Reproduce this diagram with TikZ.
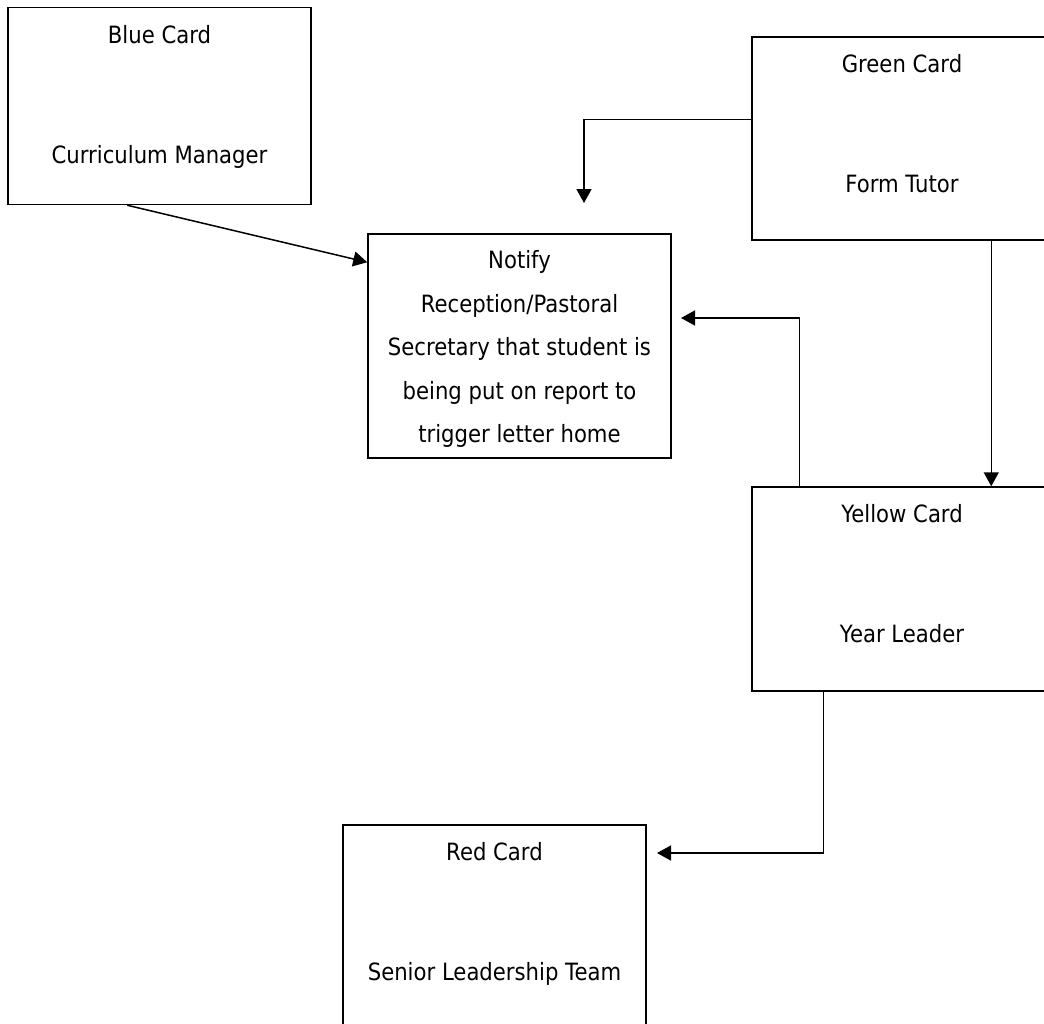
\documentclass[tikz,border=0pt]{standalone}
\usepackage{fontspec}
\setmainfont{DejaVu Sans}[FakeStretch=0.89]
\usetikzlibrary{arrows.meta}
\begin{document}
\begin{tikzpicture}[x=1pt,y=-1pt,
  cardbox/.style={draw=black, line width=1.5pt, rectangle, inner sep=0pt},
  cardtext/.style={anchor=base, inner sep=0pt, font=\fontsize{23.8pt}{28pt}\selectfont},
  arr/.style={draw=black, line width=1.5pt, -{Triangle[length=14pt,width=15pt]}}]
\useasboundingbox (0,0) rectangle (1044,1023);
\clip (0,0) rectangle (1044,1023);
% boxes
\node[cardbox, minimum width=303pt, minimum height=197pt] (blue) at (159.5,106) {};
\node[cardbox, minimum width=303pt, minimum height=203pt] (green) at (903.5,138.5) {};
\node[cardbox, minimum width=303pt, minimum height=224pt] (notify) at (519.5,346) {};
\node[cardbox, minimum width=303pt, minimum height=204pt] (yellow) at (903.5,589) {};
\node[cardbox, minimum width=303pt, minimum height=203pt] (red) at (494.5,926.5) {};
% texts
\node[cardtext] (bluet1) at (159.5,43) {Blue Card};
\node[cardtext] (bluet2) at (159.5,163) {Curriculum Manager};
\node[cardtext] (greent1) at (902,72.5) {Green Card};
\node[cardtext] (greent2) at (902,192.5) {Form Tutor};
\node[cardtext] (yellowt1) at (902,522.5) {Yellow Card};
\node[cardtext] (yellowt2) at (902,642.5) {Year Leader};
\node[cardtext] (redt1) at (494.5,860.5) {Red Card};
\node[cardtext] (redt2) at (494.5,980.5) {Senior Leadership Team};
\node[cardtext] (nt1) at (519.5,268.5) {Notify};
\node[cardtext] (nt2) at (519.5,312) {Reception/Pastoral};
\node[cardtext] (nt3) at (519.5,355.5) {Secretary that student is};
\node[cardtext] (nt4) at (519.5,399) {being put on report to};
\node[cardtext] (nt5) at (519.5,442.5) {trigger letter home};
% free ends
\coordinate (gend) at (584,203);
\coordinate (nend) at (681,318);
\coordinate (rend) at (657,853);
% connectors
\draw[arr] ([xshift=120pt]blue.south west) -- ([yshift=-29pt]notify.north west);
\draw[arr] ([yshift=-83pt]green.north west) -| (gend);
\draw[arr] ([xshift=240pt]green.south west) -- ([xshift=240pt]yellow.north west);
\draw[arr] ([xshift=48pt]yellow.north west) |- (nend);
\draw[arr] ([xshift=72pt]yellow.south west) |- (rend);
\end{tikzpicture}
\end{document}
